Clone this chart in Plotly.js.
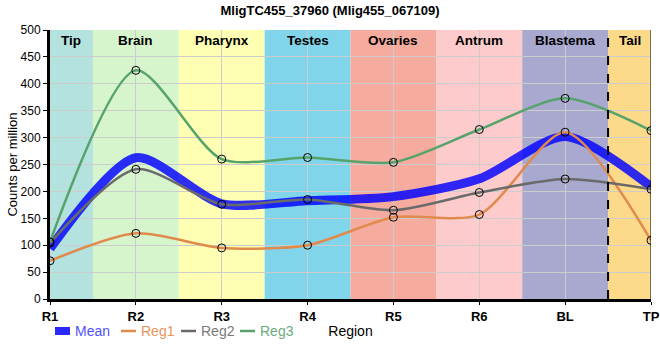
<!DOCTYPE html>
<html><head><meta charset="utf-8">
<script src="https://cdn.plot.ly/plotly-3.0.1.min.js"></script>
<style>body{margin:0;padding:0;} #chart{width:660px;height:360px;}</style>
</head><body><div id="chart"></div>
<script>
const regions = ["R1","R2","R3","R4","R5","R6","BL","TP"];
const reg1 = [71, 122, 95, 100, 152, 157, 310, 109];
const reg2 = [104, 241, 176, 185, 165, 198, 223, 204];
const reg3 = [106, 425, 260, 263, 254, 315, 373, 313];
const bandNames = ["Tip","Brain","Pharynx","Testes","Ovaries","Antrum","Blastema","Tail"];
const bandColors = ["#b4e2de","#d6f5cd","#ffffb3","#80d5ea","#f5ab9e","#fdcbcb","#a9a9cf","#fdda8a"];
const seriesNames = ["Mean","Reg1","Reg2","Reg3"];
const seriesColors = ["rgba(0,0,255,0.82)","#e08a4c","#6a6a6a","#56a36c"];
const legendTextColors = ["#5050ff","#e8955c","#7a7a7a","#6aaa7c"];

const xs = regions.map((_, i) => i);
const mean = reg1.map((v, i) => (v + reg2[i] + reg3[i]) / 3);

const font = "Liberation Sans, Arial, sans-serif";
const SM = 0.75;
function regTrace(name, y, color) {
  return {x: xs, y: y, name: name, type: 'scatter', mode: 'lines+markers', showlegend: false,
    line: {color: color, width: 2.5, shape: 'spline', smoothing: SM},
    marker: {symbol: 'circle-open', size: 8, color: '#000', line: {width: 1, color: '#000'}}};
}
const traces = [
  {x: xs, y: mean, name: 'Mean', type: 'scatter', mode: 'lines', showlegend: false,
   line: {color: seriesColors[0], width: 9, shape: 'spline', smoothing: SM}},
  regTrace('Reg1', reg1, seriesColors[1]),
  regTrace('Reg2', reg2, seriesColors[2]),
  regTrace('Reg3', reg3, seriesColors[3]),
];

const shapes = [];
const annotations = [];
for (let i = 0; i < bandNames.length; i++) {
  const x0 = Math.max(i - 0.5, 0), x1 = Math.min(i + 0.5, regions.length - 1);
  shapes.push({type: 'rect', xref: 'x', yref: 'paper', x0: x0, x1: x1, y0: 0, y1: 1,
    fillcolor: bandColors[i], line: {width: 0}, layer: 'below'});
  annotations.push({x: (x0 + x1) / 2, y: 1, xref: 'x', yref: 'paper', yanchor: 'top', yshift: -1,
    text: '<b>' + bandNames[i] + '</b>', showarrow: false,
    font: {family: font, size: 13.5, color: '#000'}});
}
shapes.push({type: 'line', xref: 'x', yref: 'paper', x0: 6.5, x1: 6.5, y0: 0, y1: 1,
  line: {color: '#000', width: 2, dash: 'dash'}, layer: 'above'});
shapes.push({type: 'line', xref: 'x', yref: 'paper', x0: 7, x1: 7, y0: 0, y1: 1,
  line: {color: '#000', width: 1}, layer: 'above'});

// manual legend (pixel positions converted to paper coords)
const PL = 50, PW = 601, PT = 30, PH = 269;
const px = v => (v - PL) / PW, py = v => (PT + PH - v) / PH;
const legX = [55, 121, 181, 240];
const legY = 331;
seriesNames.forEach((n, i) => {
  if (i === 0) {
    shapes.push({type: 'rect', xref: 'paper', yref: 'paper', x0: px(legX[i]), x1: px(legX[i] + 15),
      y0: py(legY + 4), y1: py(legY - 4), fillcolor: '#2a2aff', line: {width: 0}});
  } else {
    shapes.push({type: 'line', xref: 'paper', yref: 'paper', x0: px(legX[i]), x1: px(legX[i] + 15),
      y0: py(legY), y1: py(legY), line: {color: seriesColors[i], width: 2.5}});
  }
  annotations.push({xref: 'paper', yref: 'paper', x: px(legX[i] + 18), y: py(legY), xanchor: 'left', yanchor: 'middle',
    text: n, showarrow: false, font: {family: font, size: 14, color: legendTextColors[i]}});
});

const layout = {
  width: 660, height: 360,
  margin: {l: 50, r: 9, t: 30, b: 61},
  paper_bgcolor: '#fff', plot_bgcolor: '#fff',
  font: {family: font, size: 12, color: '#000'},
  showlegend: false,
  title: {text: '<b>MligTC455_37960 (Mlig455_067109)</b>', x: 0.5, xanchor: 'center', y: 0.985, yanchor: 'top',
    font: {family: font, size: 13, color: '#000'}},
  xaxis: {range: [0, 7], tickvals: xs, ticktext: regions.map(r => '<b>' + r + '</b>'),
    showgrid: true, gridcolor: '#cccccc', gridwidth: 1, zeroline: false,
    showline: true, linecolor: '#000', linewidth: 3, ticks: 'outside', ticklen: 3, tickcolor: '#000',
    tickfont: {family: font, size: 13, color: '#000'},
    title: {text: 'Region', standoff: 4, font: {family: font, size: 14, color: '#000'}}},
  yaxis: {range: [0, 500], dtick: 50, showgrid: true, gridcolor: '#cccccc', gridwidth: 1, zeroline: false,
    showline: true, linecolor: '#000', linewidth: 3, ticks: 'outside', ticklen: 4, tickcolor: '#000',
    tickfont: {family: font, size: 12, color: '#000'},
    title: {text: 'Counts per million', standoff: 1, font: {family: font, size: 13, color: '#000'}}},
  shapes: shapes, annotations: annotations
};
Plotly.newPlot('chart', traces, layout, {displayModeBar: false, staticPlot: true});
</script></body></html>
